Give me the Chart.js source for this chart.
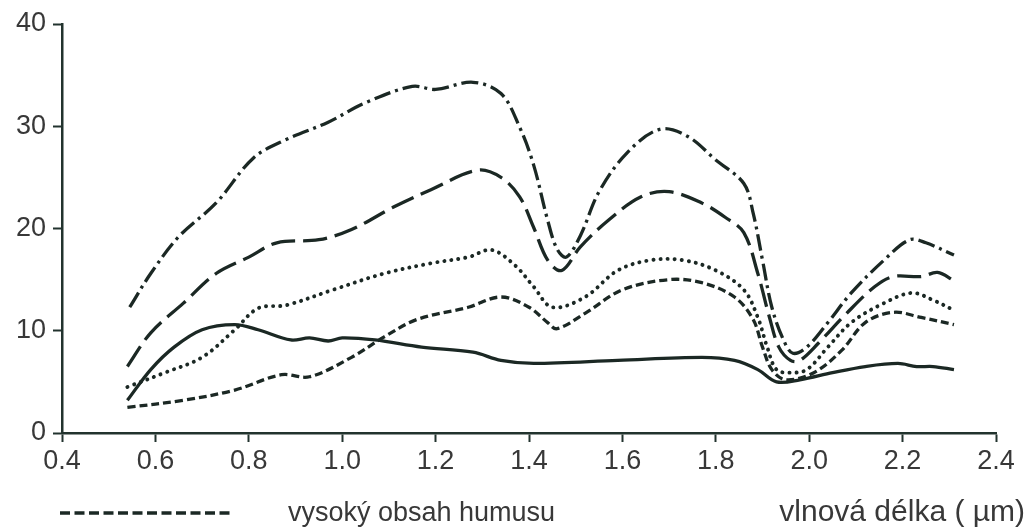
<!DOCTYPE html>
<html>
<head>
<meta charset="utf-8">
<script src="https://cdn.jsdelivr.net/npm/chart.js@4/dist/chart.umd.min.js"></script>
<style>
  html, body { margin: 0; padding: 0; background: #ffffff; }
  #wrap { width: 1026px; height: 528px; position: relative; }
</style>
</head>
<body>
<div id="wrap"><canvas id="c" width="1026" height="528"></canvas></div>
<script>
// Reflectance spectra (%) of soils against wavelength (µm)
const xTicks = [0.4, 0.6, 0.8, 1.0, 1.2, 1.4, 1.6, 1.8, 2.0, 2.2, 2.4];
const yTicks = [0, 10, 20, 30, 40];

const dashDotX = [0.545, 0.59, 0.65, 0.73, 0.81, 0.88, 0.97, 1.05, 1.15, 1.2, 1.28, 1.34, 1.38, 1.41, 1.44, 1.46, 1.48, 1.51, 1.55, 1.61, 1.68, 1.74, 1.8, 1.86, 1.88, 1.9, 1.92, 1.945, 1.965, 1.995, 2.04, 2.09, 2.16, 2.215, 2.25, 2.31];
const dashDotY = [12.3, 15.6, 19.2, 22.5, 26.9, 28.7, 30.4, 32.3, 33.9, 33.6, 34.3, 33.2, 29.9, 26.2, 20.8, 18.0, 17.2, 19.3, 23.6, 27.4, 29.7, 29.0, 26.7, 24.4, 21.5, 16.9, 12.3, 9.1, 7.8, 8.4, 10.8, 13.7, 16.9, 18.9, 18.6, 17.4];

const longDashX = [0.54, 0.59, 0.66, 0.73, 0.8, 0.86, 0.95, 1.02, 1.11, 1.19, 1.29, 1.34, 1.38, 1.41, 1.44, 1.47, 1.51, 1.57, 1.64, 1.7, 1.77, 1.82, 1.86, 1.89, 1.915, 1.935, 1.96, 1.98, 2.02, 2.08, 2.14, 2.18, 2.24, 2.275, 2.31];
const longDashY = [6.5, 9.8, 12.7, 15.6, 17.2, 18.6, 18.9, 19.9, 22.1, 23.8, 25.7, 25.0, 23.1, 20.1, 16.9, 15.9, 18.2, 20.8, 23.1, 23.6, 22.5, 21.1, 19.6, 15.6, 11.3, 8.4, 7.1, 7.1, 8.8, 11.7, 14.3, 15.3, 15.3, 15.7, 14.9];

const dottedX = [0.54, 0.62, 0.7, 0.77, 0.82, 0.88, 0.98, 1.09, 1.19, 1.27, 1.32, 1.37, 1.41, 1.45, 1.52, 1.59, 1.66, 1.73, 1.8, 1.86, 1.89, 1.91, 1.93, 1.96, 1.995, 2.04, 2.09, 2.16, 2.22, 2.265, 2.31];
const dottedY = [4.5, 5.9, 7.4, 10.1, 12.2, 12.5, 14.0, 15.6, 16.6, 17.2, 17.9, 16.4, 14.3, 12.3, 13.3, 15.9, 16.9, 16.9, 15.9, 14.0, 11.3, 8.4, 6.2, 5.9, 6.2, 8.4, 10.8, 12.7, 13.7, 13.0, 12.0];

const shortDashX = [0.54, 0.66, 0.77, 0.87, 0.93, 1.02, 1.09, 1.16, 1.27, 1.34, 1.4, 1.44, 1.46, 1.52, 1.6, 1.7, 1.77, 1.84, 1.88, 1.9, 1.92, 1.95, 2.01, 2.07, 2.12, 2.18, 2.24, 2.31];
const shortDashY = [2.5, 3.2, 4.2, 5.7, 5.5, 7.4, 9.4, 11.1, 12.3, 13.3, 12.3, 10.8, 10.2, 11.7, 14.0, 15.0, 14.7, 13.3, 11.1, 8.4, 6.2, 5.2, 5.9, 8.1, 10.8, 11.8, 11.3, 10.6];

const solidX = [0.54, 0.59, 0.64, 0.7, 0.77, 0.82, 0.89, 0.93, 0.97, 1.0, 1.07, 1.17, 1.28, 1.34, 1.41, 1.59, 1.77, 1.84, 1.89, 1.93, 1.98, 2.05, 2.12, 2.19, 2.23, 2.265, 2.31];
const solidY = [3.2, 6.2, 8.4, 10.1, 10.6, 10.1, 9.1, 9.3, 9.0, 9.3, 9.1, 8.4, 7.9, 7.1, 6.8, 7.1, 7.4, 7.1, 6.2, 5.0, 5.2, 5.9, 6.5, 6.8, 6.5, 6.5, 6.2];

const legendLabel = 'vysoký obsah humusu';
const xAxisTitle = 'vlnová délka ( µm)';

const ink = '#1b2824';
const axisInk = '#22332e';
const textInk = '#383838';
const fontFamily = '"Liberation Sans", Arial, sans-serif';

function pts(xs, ys) { return xs.map((x, i) => ({ x: x, y: ys[i] })); }

function series(label, xs, ys, dash, cap, width) {
  return {
    label: label,
    data: pts(xs, ys),
    borderColor: ink,
    backgroundColor: ink,
    borderWidth: width || 3.3,
    borderDash: dash,
    borderCapStyle: cap || 'butt',
    pointRadius: 0,
    fill: false,
    tension: 0.35
  };
}

// Legend sample and axis caption along the bottom row
const captions = {
  id: 'captions',
  afterDraw(chart) {
    const ctx = chart.ctx;
    ctx.save();
    ctx.strokeStyle = ink;
    ctx.lineWidth = 3.3;
    ctx.setLineDash([10, 4.5]);
    ctx.beginPath();
    ctx.moveTo(60, 513);
    ctx.lineTo(234, 513);
    ctx.stroke();
    ctx.setLineDash([]);
    ctx.fillStyle = textInk;
    ctx.textBaseline = 'alphabetic';
    ctx.font = '27px ' + fontFamily;
    ctx.textAlign = 'left';
    ctx.fillText(legendLabel, 288, 521);
    ctx.font = '30px ' + fontFamily;
    ctx.textAlign = 'right';
    ctx.fillText(xAxisTitle, 1025, 521);
    ctx.restore();
  }
};

new Chart(document.getElementById('c'), {
  type: 'line',
  data: {
    datasets: [
      series('nízký obsah humusu', dashDotX, dashDotY, [17, 5, 3, 5]),
      series('střední obsah humusu', longDashX, longDashY, [24, 8]),
      series('zvýšený obsah humusu', dottedX, dottedY, [0.1, 7], 'round', 3.9),
      series(legendLabel, shortDashX, shortDashY, [8, 4]),
      series('organická půda', solidX, solidY, [])
    ]
  },
  plugins: [captions],
  options: {
    responsive: false,
    animation: false,
    events: [],
    layout: { padding: { left: 0, right: 30, top: 24, bottom: 0 } },
    plugins: {
      legend: { display: false },
      tooltip: { enabled: false },
      title: { display: false }
    },
    scales: {
      x: {
        type: 'linear',
        min: xTicks[0],
        max: xTicks[xTicks.length - 1],
        afterBuildTicks(axis) { axis.ticks = xTicks.map(v => ({ value: v })); },
        afterFit(axis) { axis.height = 95; },
        grid: {
          drawOnChartArea: false,
          drawTicks: true,
          tickLength: 9,
          tickColor: axisInk,
          tickWidth: 2
        },
        border: { display: true, color: axisInk, width: 2.5 },
        ticks: {
          color: textInk,
          font: { size: 27, family: fontFamily },
          padding: 3,
          maxRotation: 0,
          callback: v => Number(v).toFixed(1)
        }
      },
      y: {
        type: 'linear',
        min: yTicks[0],
        max: yTicks[yTicks.length - 1],
        afterBuildTicks(axis) { axis.ticks = yTicks.map(v => ({ value: v })); },
        afterFit(axis) { axis.width = 62; },
        grid: {
          drawOnChartArea: false,
          drawTicks: true,
          tickLength: 9,
          tickColor: axisInk,
          tickWidth: 2
        },
        border: { display: true, color: axisInk, width: 2.5 },
        ticks: {
          color: textInk,
          font: { size: 27, family: fontFamily },
          padding: 7,
          callback: v => String(v)
        }
      }
    }
  }
});
</script>
</body>
</html>
